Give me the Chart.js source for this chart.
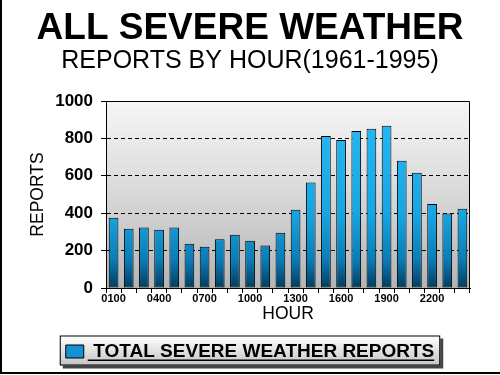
<!DOCTYPE html>
<html>
<head>
<meta charset="utf-8">
<script src="https://cdn.jsdelivr.net/npm/chart.js@4/dist/chart.umd.min.js"></script>
<style>
  html, body { margin: 0; padding: 0; background: #fff; }
  canvas { display: block; }
</style>
</head>
<body>
<canvas id="mycanvas" width="500" height="375"></canvas>
<script>
// hours along the x axis
var hours = ["0100","0200","0300","0400","0500","0600","0700","0800","0900","1000","1100","1200",
             "1300","1400","1500","1600","1700","1800","1900","2000","2100","2200","2300","2400"];
// total severe weather reports per hour
var reports = [376, 317, 323, 312, 324, 237, 221, 261, 285, 253, 227, 296,
               419, 564, 813, 792, 840, 851, 867, 680, 616, 449, 399, 424];
var yTicks = [0, 200, 400, 600, 800, 1000];

var FONT = "Arial, 'Liberation Sans', sans-serif";

function barFill(context) {
	var chart = context.chart;
	var area = chart.chartArea;
	if (!area) return "#18a4e2";
	var g = chart.ctx.createLinearGradient(0, area.top, 0, area.bottom);
	g.addColorStop(0, "#28bcf6");
	g.addColorStop(0.6, "#16a6e4");
	g.addColorStop(0.85, "#0a7cb6");
	g.addColorStop(1, "#003c5e");
	return g;
}

var decor = {
	id: "decor",
	beforeDraw: function(chart) {
		var ctx = chart.ctx;
		var a = chart.chartArea;
		ctx.save();
		// plot background
		var g = ctx.createLinearGradient(0, a.top, 0, a.bottom);
		g.addColorStop(0, "#f6f6f6");
		g.addColorStop(0.5, "#d8d8d8");
		g.addColorStop(1, "#b4b4b4");
		ctx.fillStyle = g;
		ctx.fillRect(a.left, a.top, a.right - a.left, a.bottom - a.top);
		// legend frame
		var hb = chart.legend.legendHitBoxes[0];
		if (hb) {
			var x = hb.left - 6, y = hb.top + hb.height / 2 - 16, w = hb.width + 12, h = 30;
			ctx.fillStyle = "#444";
			ctx.fillRect(x + 3, y + 3, w, h);
			var lg = ctx.createLinearGradient(0, y, 0, y + h);
			lg.addColorStop(0, "#ffffff");
			lg.addColorStop(1, "#c4c4c4");
			ctx.fillStyle = lg;
			ctx.fillRect(x, y, w, h);
			ctx.strokeStyle = "#000";
			ctx.lineWidth = 1;
			ctx.strokeRect(x + 0.5, y + 0.5, w - 1, h - 1);
		}
		ctx.restore();
	},
	afterDraw: function(chart) {
		var ctx = chart.ctx;
		var a = chart.chartArea;
		ctx.save();
		// top and right edge of the plot
		ctx.strokeStyle = "#000";
		ctx.lineWidth = 1;
		ctx.beginPath();
		ctx.moveTo(a.left, a.top + 0.5);
		ctx.lineTo(a.right - 0.5, a.top + 0.5);
		ctx.lineTo(a.right - 0.5, a.bottom);
		ctx.stroke();
		// underline of legend text
		var hb = chart.legend.legendHitBoxes[0];
		if (hb) {
			var tx = hb.left + 18 + 4;
			ctx.fillStyle = "#000";
			ctx.fillRect(tx, hb.top + hb.height / 2 + 8, hb.left + hb.width - tx, 1.5);
		}
		// page frame, left and bottom
		ctx.fillStyle = "#000";
		ctx.fillRect(0, 0, 2, 374);
		ctx.fillRect(0, 372, 500, 2);
		ctx.restore();
	}
};

var ctx = document.getElementById("mycanvas");
var chart = new Chart(ctx, {
	type: "bar",
	data: {
		labels: hours,
		datasets: [{
			label: "TOTAL SEVERE WEATHER REPORTS",
			data: reports,
			backgroundColor: barFill,
			borderColor: "#000",
			borderWidth: 1,
			borderSkipped: false,
			categoryPercentage: 1,
			barPercentage: 0.64
		}]
	},
	plugins: [decor],
	options: {
		responsive: false,
		animation: false,
		devicePixelRatio: 1,
		layout: { padding: { left: 0, right: 0, top: 0, bottom: 4 } },
		plugins: {
			tooltip: { enabled: false },
			title: {
				display: true,
				text: "ALL SEVERE WEATHER",
				color: "#000",
				font: { family: FONT, size: 37, weight: "bold", lineHeight: 1 },
				padding: { top: 10, bottom: 0 }
			},
			subtitle: {
				display: true,
				text: "REPORTS BY HOUR(1961-1995)",
				color: "#000",
				font: { family: FONT, size: 25, weight: "normal", lineHeight: 1 },
				padding: { top: 2, bottom: 27 }
			},
			legend: {
				display: true,
				position: "bottom",
				labels: {
					color: "#000",
					font: { family: FONT, size: 19, weight: "bold" },
					boxWidth: 18,
					boxHeight: 13,
					padding: 10,
					generateLabels: function(chart) {
						return [{
							text: chart.data.datasets[0].label,
							fillStyle: "#1590d2",
							strokeStyle: "#000",
							lineWidth: 1,
							datasetIndex: 0
						}];
					}
				}
			}
		},
		scales: {
			x: {
				offset: true,
				afterFit: function(s) { s.height = 44; },
				grid: {
					offset: true,
					drawOnChartArea: false,
					drawTicks: true,
					tickLength: 5,
					tickColor: "#000"
				},
				border: { display: true, color: "#000", width: 1 },
				ticks: {
					autoSkip: false,
					maxRotation: 0,
					padding: 0,
					color: "#000",
					font: { family: FONT, size: 11, weight: "bold", lineHeight: 1 },
					callback: function(v, i) { return i % 3 === 0 ? hours[i] : ""; }
				},
				title: {
					display: true,
					text: "HOUR",
					color: "#000",
					font: { family: FONT, size: 17.5, lineHeight: 1 },
					padding: { top: 0, bottom: 9 }
				}
			},
			y: {
				min: yTicks[0],
				max: yTicks[yTicks.length - 1],
				afterFit: function(s) { s.width = 106; },
				grid: {
					color: function(c) {
						var v = c.tick ? c.tick.value : 0;
						return (v > 0 && v < 1000 && yTicks.indexOf(v) >= 0) ? "#000" : "rgba(0,0,0,0)";
					},
					lineWidth: 1,
					tickLength: 5,
					tickColor: "#000"
				},
				border: { display: true, color: "#000", width: 1, dash: [4, 3] },
				ticks: {
					stepSize: 100,
					padding: 8,
					color: "#000",
					font: { family: FONT, size: 17, weight: "bold" },
					callback: function(v) { return yTicks.indexOf(v) >= 0 ? v : ""; }
				},
				title: {
					display: true,
					text: "REPORTS",
					color: "#000",
					font: { family: FONT, size: 17.5, lineHeight: 1 },
					padding: { top: 29, bottom: 0 }
				}
			},
			// empty axis on the right only keeps a margin there
			yRight: {
				position: "right",
				display: true,
				afterFit: function(s) { s.width = 30; },
				grid: { display: false },
				border: { display: false },
				ticks: { display: false }
			}
		}
	}
});
</script>
</body>
</html>
